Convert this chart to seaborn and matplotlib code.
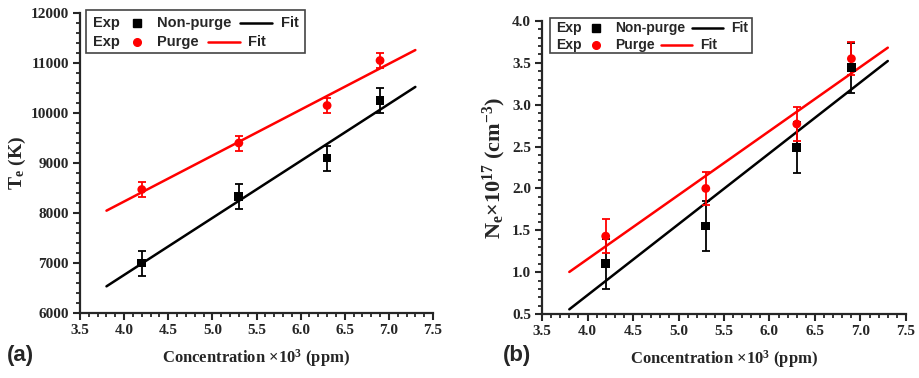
import numpy as np
import pandas as pd
import matplotlib
matplotlib.use("Agg")
import matplotlib.pyplot as plt
from matplotlib.patches import Rectangle
from matplotlib.lines import Line2D
from matplotlib.ticker import MultipleLocator
import seaborn as sns

# ─── DATA ────────────────────────────────────────────────────────────────────
conc = [4.2, 5.3, 6.3, 6.9]          # concentration x10^3 ppm
fit_range = [3.8, 7.3]

te_nonpurge = [7000, 8330, 9100, 10250]
te_nonpurge_err = [250, 250, 250, 250]
te_purge = [8470, 9400, 10150, 11050]
te_purge_err = [150, 150, 150, 150]

ne_nonpurge = [1.10, 1.55, 2.49, 3.44]
ne_nonpurge_err = [0.30, 0.30, 0.30, 0.30]
ne_purge = [1.43, 2.00, 2.77, 3.55]
ne_purge_err = [0.20, 0.20, 0.20, 0.20]

# ─── STYLE ───────────────────────────────────────────────────────────────────
sns.set_style("ticks")
plt.rcParams["font.family"] = ["Liberation Serif", "DejaVu Serif"]
plt.rcParams["font.weight"] = "bold"
plt.rcParams["mathtext.fontset"] = "custom"
plt.rcParams["mathtext.rm"] = "Liberation Serif:bold"
plt.rcParams["mathtext.it"] = "Liberation Serif:bold"
plt.rcParams["mathtext.bf"] = "Liberation Serif:bold"

W, H = 920, 378
fig = plt.figure(figsize=(W / 100, H / 100), dpi=100)


def px_axes(left, top, right, bottom):
    return fig.add_axes([left / W, 1 - bottom / H, (right - left) / W, (bottom - top) / H])


def fig_xy(px, py):
    return px / W, 1 - py / H


ax1 = px_axes(80, 13, 433, 313)
ax2 = px_axes(542, 21, 906, 314)

BLACK = "#000000"
RED = "#ff0000"


def draw_panel(ax, y_np, e_np, y_p, e_p):
    df = pd.DataFrame({"x": conc * 2,
                       "y": y_np + y_p,
                       "group": ["Non-purge"] * 4 + ["Purge"] * 4})
    xf = np.linspace(fit_range[0], fit_range[1], 50)
    fits = []
    for name, ys in [("Non-purge", y_np), ("Purge", y_p)]:
        m, b = np.polyfit(conc, ys, 1)
        fits.append(pd.DataFrame({"x": xf, "y": m * xf + b, "group": name}))
    fit_df = pd.concat(fits)

    sns.lineplot(data=fit_df, x="x", y="y", hue="group",
                 palette={"Non-purge": BLACK, "Purge": RED},
                 linewidth=1.8, legend=False, ax=ax, zorder=2)
    ax.errorbar(conc, y_np, yerr=e_np, fmt="none", ecolor=BLACK,
                elinewidth=1.3, capsize=3, capthick=1.3, zorder=3)
    ax.errorbar(conc, y_p, yerr=e_p, fmt="none", ecolor=RED,
                elinewidth=1.3, capsize=3, capthick=1.3, zorder=3)
    sns.scatterplot(data=df, x="x", y="y", hue="group", style="group",
                    palette={"Non-purge": BLACK, "Purge": RED},
                    markers={"Non-purge": "s", "Purge": "o"},
                    s=40, edgecolor="none", legend=False, ax=ax, zorder=4)


draw_panel(ax1, te_nonpurge, te_nonpurge_err, te_purge, te_purge_err)
draw_panel(ax2, ne_nonpurge, ne_nonpurge_err, ne_purge, ne_purge_err)

ax1.set_ylim(6000, 12000)
ax1.yaxis.set_major_locator(MultipleLocator(1000))
ax1.yaxis.set_minor_locator(MultipleLocator(200))
ax2.set_ylim(0.5, 4.0)
ax2.yaxis.set_major_locator(MultipleLocator(0.5))
ax2.yaxis.set_minor_locator(MultipleLocator(0.1))
ax2.yaxis.set_major_formatter(plt.FormatStrFormatter("%.1f"))

for ax in (ax1, ax2):
    ax.set_xlim(3.5, 7.5)
    ax.xaxis.set_major_locator(MultipleLocator(0.5))
    ax.xaxis.set_minor_locator(MultipleLocator(0.1))
    ax.xaxis.set_major_formatter(plt.FormatStrFormatter("%.1f"))
    for s in ("top", "right"):
        ax.spines[s].set_visible(False)
    for s in ("left", "bottom"):
        ax.spines[s].set_linewidth(1.6)
    ax.tick_params(which="major", direction="out", length=5, width=1.5,
                   labelsize=11, pad=3)
    ax.tick_params(which="minor", direction="out", length=3, width=1.3)
    for lab in ax.get_xticklabels() + ax.get_yticklabels():
        lab.set_fontweight("bold")
    ax.set_xlabel("Concentration ×10$^3$ (ppm)", fontsize=12,
                  fontweight="bold", labelpad=7)

ax1.set_ylabel("T$_e$ (K)", fontsize=14, fontweight="bold", labelpad=2)
ax2.set_ylabel("N$_e$×10$^{17}$ (cm$^{-3}$)", fontsize=16, fontweight="bold",
               labelpad=3)

# ─── ORIGIN-STYLE LEGENDS ────────────────────────────────────────────────────
sans = ["Liberation Sans", "DejaVu Sans"]


def origin_legend(box, rows, size):
    l, t, r, b = box
    x0, y0 = fig_xy(l, b)
    x1, y1 = fig_xy(r, t)
    fig.add_artist(Rectangle((x0, y0), x1 - x0, y1 - y0, transform=fig.transFigure,
                             facecolor="white", edgecolor="#444444", linewidth=1.2))
    for py, exp_x, mk_x, mk, col, name_x, name, ln, fit_x in rows:
        fx, fy = fig_xy(exp_x, py)
        fig.text(fx, fy, "Exp", family=sans, fontweight="bold", fontsize=size,
                 va="center", ha="left")
        fx, fy = fig_xy(mk_x, py)
        fig.add_artist(Line2D([fx], [fy], marker=mk, color=col, markersize=5.5,
                              linestyle="none", transform=fig.transFigure))
        fx, fy = fig_xy(name_x, py)
        fig.text(fx, fy, name, family=sans, fontweight="bold", fontsize=size,
                 va="center", ha="left")
        lx0, ly = fig_xy(ln[0], py)
        lx1, _ = fig_xy(ln[1], py)
        fig.add_artist(Line2D([lx0, lx1], [ly, ly], color=col, linewidth=1.8,
                              transform=fig.transFigure))
        fx, fy = fig_xy(fit_x, py)
        fig.text(fx, fy, "Fit", family=sans, fontweight="bold", fontsize=size,
                 va="center", ha="left")


origin_legend((86, 10, 305, 53), [
    (23, 93, 137, "s", BLACK, 157, "Non-purge", (240, 272), 281),
    (42, 93, 137, "o", RED, 157, "Purge", (208, 240), 248),
], 10.5)
origin_legend((550, 18, 752, 53), [
    (28, 556, 596, "s", BLACK, 615, "Non-purge", (692, 723), 731),
    (45, 556, 596, "o", RED, 615, "Purge", (661, 692), 700),
], 10)

# panel labels
fx, fy = fig_xy(7, 356)
fig.text(fx, fy, "(a)", family=sans, fontweight="bold", fontsize=16, va="center")
fx, fy = fig_xy(503, 356)
fig.text(fx, fy, "(b)", family=sans, fontweight="bold", fontsize=16, va="center")

fig.savefig("out.png", dpi=100, facecolor="white")
